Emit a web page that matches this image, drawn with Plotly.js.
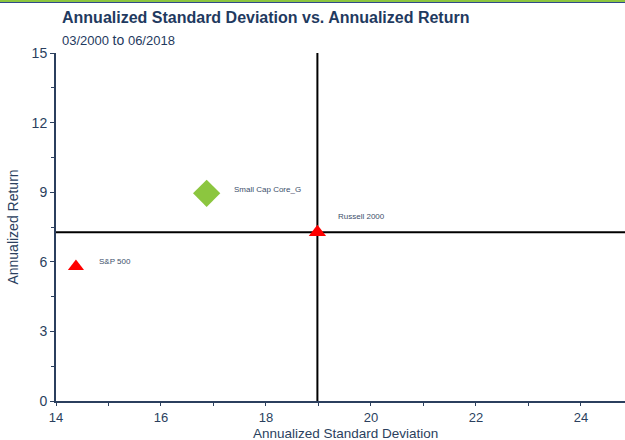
<!DOCTYPE html>
<html><head><meta charset="utf-8">
<script src="https://cdn.plot.ly/plotly-3.0.1.min.js"></script>
<style>
body{margin:0;padding:0;background:#fff}
#wrap{position:relative;width:625px;height:440px}
#chart{width:625px;height:440px}
#bar1{position:absolute;left:0;top:0;width:625px;height:2px;background:#8cc63f}
#bar2{position:absolute;left:0;top:2px;width:625px;height:1px;background:#2e4a8a}
</style>
</head><body><div id="wrap"><div id="chart"></div><div id="bar1"></div><div id="bar2"></div></div>
<script>
const names = ["Small Cap Core_G", "Russell 2000", "S&P 500"];
const stdDev = [16.87, 18.98, 14.38];
const annReturn = [8.95, 7.27, 5.8];
const symbols = ["diamond", "triangle-up", "triangle-up"];
const colors = ["#8cc63f", "#ff0000", "#ff0000"];
const sizes = [21, 15, 14];
const benchmark = {x: 18.98, y: 7.27};
const xTicks = [14, 16, 18, 20, 22, 24];
const yTicks = [0, 3, 6, 9, 12, 15];

const font = "'Liberation Sans', Arial, sans-serif";
const navy = "#2b3f5e";

const traces = [{
  type: "scatter", mode: "markers",
  x: stdDev, y: annReturn,
  marker: {symbol: symbols, color: colors, size: sizes, opacity: 1, line: {width: 0}},
  hoverinfo: "skip", cliponaxis: false
}];

const labelShift = [[25, 4], [19, 16], [21, 5]];
const annotations = names.map((n, i) => ({
  x: stdDev[i], y: annReturn[i], xref: "x", yref: "y",
  text: n, showarrow: false, xanchor: "left", yanchor: "middle",
  xshift: labelShift[i][0], yshift: labelShift[i][1],
  font: {family: font, size: 8, color: "#3d4f6b"}
}));
annotations.push({
  xref: "paper", yref: "paper", x: 0.007, y: 1, yshift: 25, xanchor: "left", yanchor: "bottom",
  text: "<b>Annualized Standard Deviation vs. Annualized Return</b>", showarrow: false,
  font: {family: font, size: 16, color: "#1f3a60"}
});
annotations.push({
  xref: "paper", yref: "paper", x: 0.007, y: 1, yshift: 3, xanchor: "left", yanchor: "bottom",
  text: "03/2000 <span style='font-size:14px'>to</span> 06/2018", showarrow: false,
  font: {family: font, size: 13, color: "#1f3a60"}
});
annotations.push({
  xref: "paper", yref: "paper", x: 0.508, y: 0, yshift: -32, xanchor: "center", yanchor: "middle",
  text: "Annualized Standard Deviation", showarrow: false,
  font: {family: font, size: 13.5, color: navy}
});

const layout = {
  width: 625, height: 440,
  margin: {l: 56, r: 0, t: 53, b: 39},
  paper_bgcolor: "#fff", plot_bgcolor: "#fff",
  showlegend: false,
  font: {family: font, color: navy},
  xaxis: {
    range: [14, 24.84], tickvals: xTicks, ticktext: xTicks.map(String),
    showgrid: false, zeroline: false, showline: true, linecolor: navy, linewidth: 2,
    ticks: "outside", ticklen: 3, tickcolor: navy, tickwidth: 1,
    minor: {tickvals: [15, 17, 19, 21, 23], ticks: "outside", ticklen: 3, tickcolor: navy},
    tickfont: {family: font, size: 13, color: navy}
  },
  yaxis: {
    range: [0, 15], tickvals: yTicks, ticktext: yTicks.map(String),
    showgrid: false, zeroline: false, showline: true, linecolor: navy, linewidth: 2,
    ticks: "outside", ticklen: 4, tickcolor: navy, tickwidth: 1,
    minor: {tickvals: [1.5, 4.5, 7.5, 10.5, 13.5], ticks: "outside", ticklen: 3, tickcolor: navy},
    tickfont: {family: font, size: 14, color: navy},
    title: {text: "Annualized Return", font: {family: font, size: 14, color: navy}, standoff: 10}
  },
  shapes: [
    {type: "line", xref: "x", yref: "paper", x0: benchmark.x, x1: benchmark.x, y0: 0, y1: 1, line: {color: "#000", width: 2}, layer: "below"},
    {type: "line", xref: "paper", yref: "y", x0: 0, x1: 1, y0: benchmark.y, y1: benchmark.y, line: {color: "#000", width: 2}, layer: "below"}
  ],
  annotations: annotations
};
Plotly.newPlot("chart", traces, layout, {displayModeBar: false, staticPlot: true});
</script></body></html>
